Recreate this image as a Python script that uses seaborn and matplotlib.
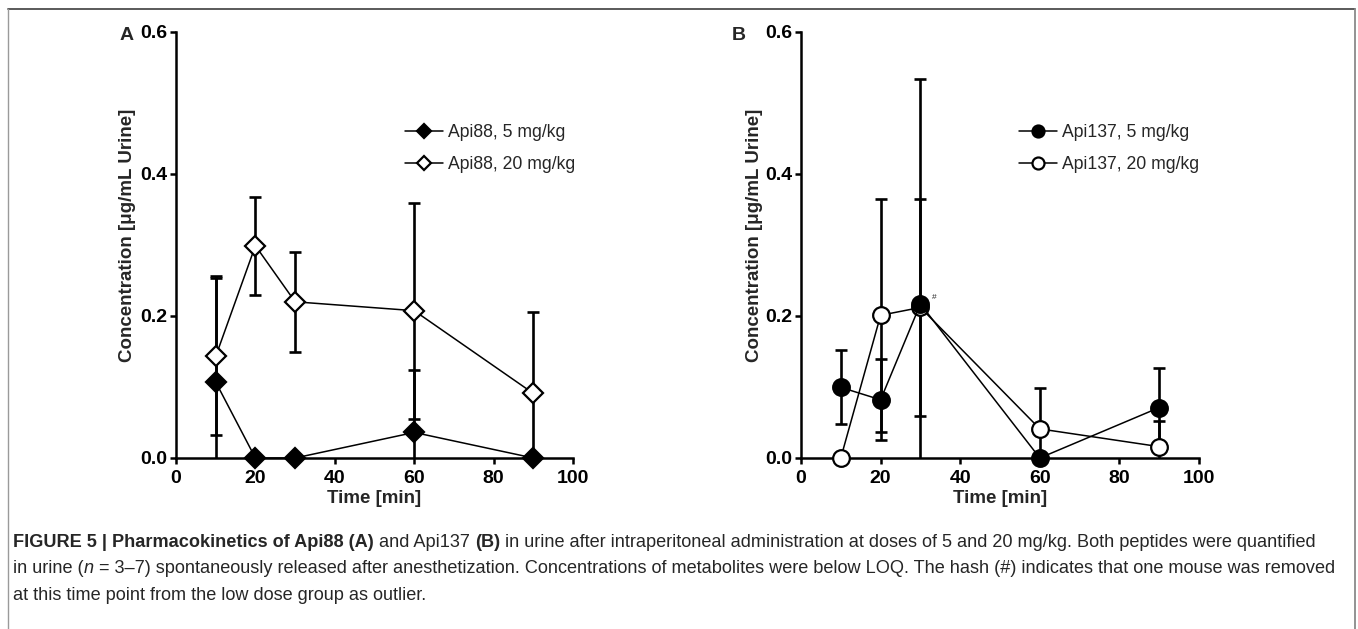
import numpy as np
import matplotlib
matplotlib.use("Agg")
import matplotlib.pyplot as plt
from matplotlib.lines import Line2D
import seaborn as sns

# ---------------- data ----------------
time_min = [10, 20, 30, 60, 90]

api88_5_mean = [0.107, 0.0, 0.0, 0.036, 0.0]
api88_5_sd = [0.150, 0.0, 0.0, 0.088, 0.0]
api88_20_mean = [0.143, 0.299, 0.220, 0.2075, 0.091]
api88_20_sd = [0.111, 0.069, 0.070, 0.152, 0.114]

api137_5_mean = [0.0995, 0.082, 0.217, 0.0, 0.071]
api137_5_sd = [0.052, 0.057, 0.317, 0.0, 0.056]
api137_20_mean = [0.0, 0.201, 0.212, 0.041, 0.016]
api137_20_sd = [0.0, 0.164, 0.153, 0.057, 0.0365]

labels_A = ["Api88, 5 mg/kg", "Api88, 20 mg/kg"]
labels_B = ["Api137, 5 mg/kg", "Api137, 20 mg/kg"]
xticks = [0, 20, 40, 60, 80, 100]
yticks = [0.0, 0.2, 0.4, 0.6]
ytick_labels = ["0.0", "0.2", "0.4", "0.6"]
ylabel = "Concentration [μg/mL Urine]"
xlabel = "Time [min]"

caption_lines = [
    [("FIGURE 5 | Pharmacokinetics of Api88 (A)", "b"), ("and Api137", "n"), ("(B)", "b"),
     ("in urine after intraperitoneal administration at doses of 5 and 20 mg/kg. Both peptides were quantified", "n")],
    [("in urine (", "n"), ("n", "i"), ("= 3–7) spontaneously released after anesthetization. Concentrations of metabolites were below LOQ. The hash (#) indicates that one mouse was removed", "n")],
    [("at this time point from the low dose group as outlier.", "n")],
]
no_space_after = {"in urine ("}

# ---------------- style ----------------
sns.set_style("ticks")
plt.rcParams["font.family"] = ["Liberation Sans", "DejaVu Sans"]

W, H = 1358, 629
fig = plt.figure(figsize=(W / 100, H / 100), dpi=100)
fig.patch.set_facecolor("white")

axA = fig.add_axes([176 / W, 1 - 458 / H, 397 / W, 426 / H])
axB = fig.add_axes([801 / W, 1 - 458 / H, 398 / W, 426 / H])

LW_SPINE = 1.8
LW_DATA = 1.1
LW_ERR = 1.9
TICK_FS = 14
LABEL_FS = 13.5
LEG_FS = 12.7


def draw_series(ax, mean, sd, marker, filled, ms, label):
    t = np.asarray(time_min, float)
    m = np.asarray(mean, float)
    s = np.asarray(sd, float)
    mask = s > 0
    ax.errorbar(t[mask], m[mask], yerr=s[mask], fmt="none", ecolor="black",
                elinewidth=LW_ERR, capsize=4.5, capthick=LW_ERR, zorder=3)
    sns.lineplot(x=t, y=m, ax=ax, color="black", linewidth=LW_DATA, marker=marker,
                 markersize=ms, markerfacecolor="black" if filled else "white",
                 markeredgecolor="black", markeredgewidth=1.6, clip_on=False,
                 zorder=4, label=label, legend=False, errorbar=None)


draw_series(axA, api88_20_mean, api88_20_sd, "D", False, 9.8, labels_A[1])
draw_series(axA, api88_5_mean, api88_5_sd, "D", True, 9.8, labels_A[0])
draw_series(axB, api137_20_mean, api137_20_sd, "o", False, 12, labels_B[1])
draw_series(axB, api137_5_mean, api137_5_sd, "o", True, 12, labels_B[0])

axB.annotate("#", xy=(time_min[2], api137_5_mean[2]), xytext=(8, 2),
             textcoords="offset points", fontsize=6, ha="left", va="bottom")

for ax, lab_x in ((axA, -0.101), (axB, -0.0955)):
    ax.set_xlim(0, 100)
    ax.set_ylim(0, 0.6)
    ax.set_xticks(xticks)
    ax.set_xticklabels([str(v) for v in xticks], fontsize=TICK_FS, fontweight="bold")
    ax.set_yticks(yticks)
    ax.set_yticklabels(ytick_labels, fontsize=TICK_FS, fontweight="bold")
    ax.tick_params(direction="out", length=4, width=LW_SPINE, pad=2, colors="black")
    ax.tick_params(axis="x", pad=4.5)
    for sp in ("top", "right"):
        ax.spines[sp].set_visible(False)
    for sp in ("left", "bottom"):
        ax.spines[sp].set_linewidth(LW_SPINE)
        ax.spines[sp].set_color("black")
        ax.spines[sp].set_capstyle("projecting")
    ax.set_ylabel(ylabel, fontsize=LABEL_FS, fontweight="bold")
    ax.yaxis.set_label_coords(lab_x, 0.523)
    ax.set_xlabel(xlabel, fontsize=LABEL_FS, fontweight="bold")
    ax.xaxis.set_label_coords(0.5, -0.075)
    ax.set_facecolor("white")
    ax.grid(False)


def make_legend(ax, x_px, labels):
    hs, ls = ax.get_legend_handles_labels()
    d = dict(zip(ls, hs))
    ax.legend([d[l] for l in labels], labels, loc="upper left",
              bbox_to_anchor=(x_px / W, 1 - 124 / H), bbox_transform=fig.transFigure,
              frameon=False, borderpad=0, borderaxespad=0, handlelength=2.15,
              handletextpad=0.28, labelspacing=0.85, markerscale=0.72,
              prop={"size": LEG_FS, "weight": "normal"}, numpoints=1)


make_legend(axA, 405, labels_A)
make_legend(axB, 1019, labels_B)

fig.text(120 / W, 1 - 35 / H, "A", fontsize=14, fontweight="bold", ha="left", va="center")
fig.text(732 / W, 1 - 35 / H, "B", fontsize=14, fontweight="bold", ha="left", va="center")

# frame around figure
fig.add_artist(Line2D([8 / W, 1355 / W], [1 - 8.5 / H, 1 - 8.5 / H], color="#4d4d4d", lw=1.3))
fig.add_artist(Line2D([8 / W, 8 / W], [0, 1 - 8.5 / H], color="#9a9a9a", lw=1.0))
fig.add_artist(Line2D([1355 / W, 1355 / W], [0, 1 - 8.5 / H], color="#8a8a8a", lw=1.3))

# caption
renderer = fig.canvas.get_renderer()
CAP_COLOR = "#262626"


def style_kw(st):
    return {"fontweight": "bold" if st == "b" else "normal",
            "fontstyle": "italic" if st == "i" else "normal"}


def text_width(s, fs, st):
    t = fig.text(0, 0, s, fontsize=fs, **style_kw(st))
    w = t.get_window_extent(renderer).width
    t.remove()
    return w


def space_width(fs, st):
    return text_width("a a", fs, st) - text_width("aa", fs, st)


def line_width(pieces, fs):
    total = 0.0
    for i, (s, st) in enumerate(pieces):
        total += text_width(s, fs, st)
        if i < len(pieces) - 1 and s not in no_space_after:
            total += space_width(fs, "n")
    return total


fs0 = 10.0
cap_fs = min(fs0 * (1341 - 13) / line_width(caption_lines[0], fs0),
             fs0 * (1340 - 13) / line_width(caption_lines[1], fs0))

baselines = [547, 573, 600]
for pieces, yb in zip(caption_lines, baselines):
    x = 13.0
    for i, (s, st) in enumerate(pieces):
        fig.text(x / W, 1 - yb / H, s, fontsize=cap_fs, color=CAP_COLOR,
                 ha="left", va="baseline", **style_kw(st))
        x += text_width(s, cap_fs, st)
        if i < len(pieces) - 1 and s not in no_space_after:
            x += space_width(cap_fs, "n")

fig.savefig("out.png", dpi=100, facecolor="white")
